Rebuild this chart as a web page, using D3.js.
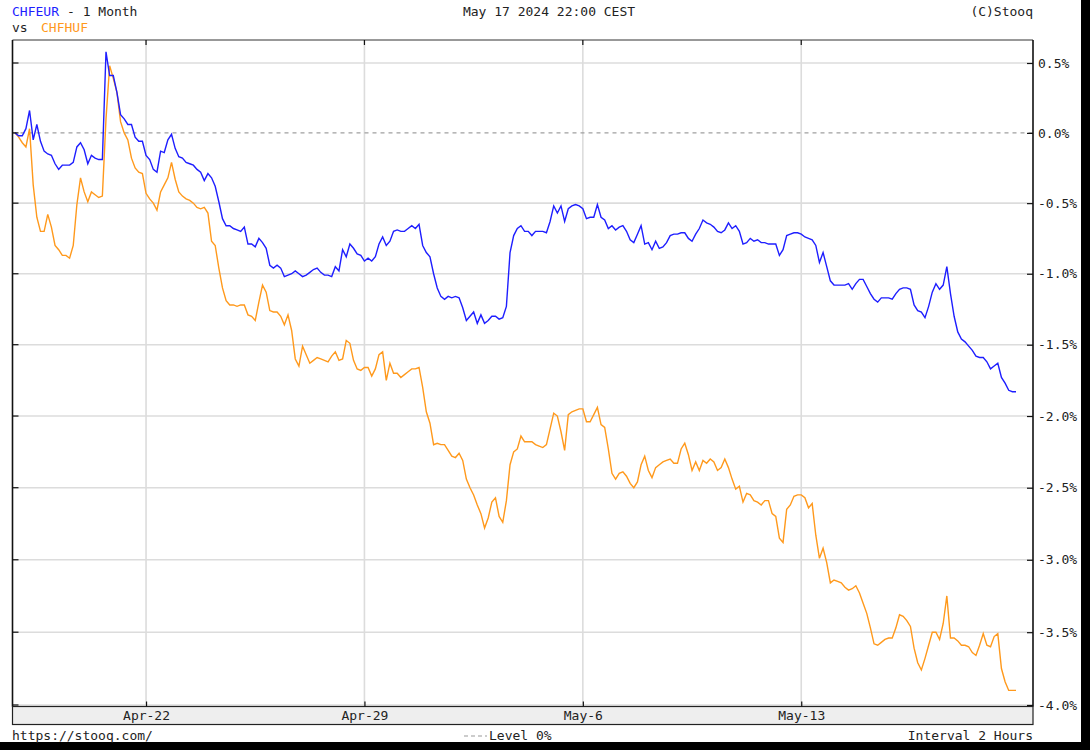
<!DOCTYPE html>
<html>
<head>
<meta charset="utf-8">
<script src="https://cdn.jsdelivr.net/npm/d3@7"></script>
<style>
  html, body { margin: 0; padding: 0; background: #fff; }
  svg { display: block; }
  text { font-family: "DejaVu Sans Mono", "Liberation Mono", monospace; font-size: 13px; }
</style>
</head>
<body>
<svg id="chart" width="1090" height="750"></svg>
<script>
// ---- data (percent change vs start, 2-hour bars) ----
const seriesNames = ["CHFEUR", "CHFHUF"];
const xTickLabels = ["Apr-22", "Apr-29", "May-6", "May-13"];
const xTickIndex = [36, 96, 156, 216];
const yTicks = [0.5, 0.0, -0.5, -1.0, -1.5, -2.0, -2.5, -3.0, -3.5, -4.0];

const chfeur = [
  0.00, -0.02, -0.02, 0.03, 0.16, -0.05, 0.06, -0.06, -0.13, -0.15,
  -0.16, -0.22, -0.26, -0.23, -0.23, -0.23, -0.21, -0.10, -0.07, -0.12,
  -0.22, -0.16, -0.18, -0.19, -0.19, 0.58, 0.41, 0.41, 0.29, 0.13,
  0.10, 0.06, 0.06, -0.03, -0.06, -0.06, -0.16, -0.19, -0.26, -0.28,
  -0.13, -0.14, -0.05, -0.01, -0.11, -0.17, -0.18, -0.21, -0.22, -0.23,
  -0.26, -0.28, -0.34, -0.29, -0.32, -0.38, -0.49, -0.61, -0.66, -0.66,
  -0.68, -0.69, -0.70, -0.67, -0.79, -0.79, -0.81, -0.75, -0.78, -0.82,
  -0.94, -0.96, -0.94, -0.96, -1.02, -1.01, -1.00, -0.98, -1.00, -1.02,
  -1.01, -0.99, -0.97, -0.96, -0.99, -1.01, -1.01, -1.02, -0.95, -0.98,
  -0.83, -0.88, -0.79, -0.82, -0.86, -0.87, -0.91, -0.89, -0.91, -0.88,
  -0.79, -0.74, -0.80, -0.77, -0.70, -0.69, -0.70, -0.70, -0.68, -0.66,
  -0.68, -0.65, -0.80, -0.85, -0.88, -1.00, -1.10, -1.16, -1.18, -1.16,
  -1.17, -1.16, -1.17, -1.24, -1.33, -1.30, -1.27, -1.35, -1.29, -1.35,
  -1.33, -1.30, -1.30, -1.32, -1.31, -1.23, -0.85, -0.73, -0.68, -0.66,
  -0.70, -0.70, -0.73, -0.70, -0.70, -0.70, -0.71, -0.63, -0.52, -0.57,
  -0.52, -0.63, -0.54, -0.52, -0.51, -0.52, -0.54, -0.61, -0.60, -0.60,
  -0.51, -0.60, -0.62, -0.68, -0.66, -0.69, -0.67, -0.66, -0.70, -0.76,
  -0.78, -0.72, -0.66, -0.79, -0.78, -0.83, -0.77, -0.82, -0.81, -0.78,
  -0.73, -0.72, -0.72, -0.71, -0.71, -0.75, -0.77, -0.72, -0.68, -0.62,
  -0.64, -0.65, -0.67, -0.70, -0.71, -0.69, -0.64, -0.68, -0.66, -0.70,
  -0.79, -0.78, -0.75, -0.77, -0.76, -0.78, -0.78, -0.79, -0.79, -0.79,
  -0.87, -0.83, -0.73, -0.72, -0.71, -0.71, -0.72, -0.74, -0.75, -0.76,
  -0.80, -0.92, -0.85, -0.95, -1.05, -1.08, -1.08, -1.08, -1.08, -1.07,
  -1.11, -1.07, -1.04, -1.04, -1.09, -1.14, -1.18, -1.20, -1.17, -1.17,
  -1.17, -1.18, -1.14, -1.11, -1.10, -1.10, -1.11, -1.22, -1.26, -1.27,
  -1.31, -1.23, -1.13, -1.07, -1.11, -1.08, -0.95, -1.14, -1.30, -1.41,
  -1.46, -1.48, -1.51, -1.54, -1.58, -1.59, -1.59, -1.62, -1.67, -1.65,
  -1.63, -1.73, -1.77, -1.82, -1.83, -1.83
];

const chfhuf = [
  0.00, -0.03, -0.07, -0.10, 0.03, -0.37, -0.60, -0.70, -0.70, -0.58,
  -0.67, -0.80, -0.83, -0.87, -0.87, -0.89, -0.80, -0.51, -0.32, -0.42,
  -0.49, -0.42, -0.44, -0.46, -0.45, 0.10, 0.48, 0.39, 0.29, 0.08,
  0.00, -0.05, -0.18, -0.25, -0.28, -0.29, -0.43, -0.47, -0.50, -0.55,
  -0.42, -0.37, -0.32, -0.21, -0.33, -0.42, -0.45, -0.47, -0.48, -0.50,
  -0.53, -0.54, -0.53, -0.57, -0.77, -0.80, -0.96, -1.10, -1.19, -1.22,
  -1.22, -1.23, -1.22, -1.22, -1.29, -1.30, -1.33, -1.20, -1.08, -1.13,
  -1.26, -1.27, -1.27, -1.30, -1.36, -1.29, -1.40, -1.60, -1.65, -1.51,
  -1.57, -1.63, -1.61, -1.59, -1.60, -1.61, -1.62, -1.58, -1.55, -1.61,
  -1.60, -1.47, -1.49, -1.61, -1.67, -1.68, -1.66, -1.66, -1.72, -1.67,
  -1.57, -1.55, -1.75, -1.63, -1.70, -1.70, -1.73, -1.71, -1.69, -1.67,
  -1.67, -1.66, -1.80, -1.97, -2.05, -2.20, -2.19, -2.20, -2.20, -2.24,
  -2.28, -2.29, -2.26, -2.31, -2.44, -2.50, -2.55, -2.62, -2.68, -2.78,
  -2.71, -2.60, -2.57, -2.70, -2.74, -2.59, -2.34, -2.25, -2.23, -2.14,
  -2.18, -2.18, -2.18, -2.20, -2.21, -2.22, -2.20, -2.09, -1.98, -2.00,
  -2.11, -2.24, -1.99, -1.97, -1.96, -1.95, -1.95, -2.04, -2.04, -1.99,
  -1.94, -2.06, -2.08, -2.23, -2.40, -2.44, -2.40, -2.39, -2.42, -2.47,
  -2.50, -2.46, -2.34, -2.28, -2.38, -2.43, -2.36, -2.34, -2.32, -2.31,
  -2.30, -2.33, -2.33, -2.23, -2.19, -2.27, -2.38, -2.32, -2.38, -2.31,
  -2.33, -2.30, -2.32, -2.38, -2.36, -2.30, -2.36, -2.44, -2.51, -2.49,
  -2.60, -2.54, -2.55, -2.59, -2.60, -2.62, -2.59, -2.59, -2.68, -2.70,
  -2.85, -2.88, -2.65, -2.62, -2.56, -2.55, -2.55, -2.57, -2.64, -2.61,
  -2.83, -2.99, -2.92, -3.02, -3.16, -3.14, -3.15, -3.16, -3.19, -3.21,
  -3.20, -3.18, -3.23, -3.30, -3.37, -3.47, -3.58, -3.59, -3.57, -3.55,
  -3.54, -3.54, -3.47, -3.38, -3.39, -3.42, -3.46, -3.61, -3.71, -3.76,
  -3.68, -3.59, -3.50, -3.50, -3.55, -3.44, -3.25, -3.54, -3.54, -3.56,
  -3.59, -3.59, -3.60, -3.64, -3.66, -3.59, -3.51, -3.59, -3.60, -3.53,
  -3.51, -3.75, -3.84, -3.90, -3.90, -3.90
];

// ---- layout ----
const W = 1090, H = 750;
const plot = { left: 12.5, right: 1033, top: 40, bottom: 706.5 };
const blueColor = "#1e1eff", orangeColor = "#ff991c", textColor = "#222";

const svg = d3.select("#chart");

// log scale of price ratio (1 + pct/100)
const y = d3.scaleLog().domain([1.005, 0.96]).range([63, 705]);
const x = d3.scaleLinear().domain([0, chfeur.length - 1]).range([15, 1016]);
const yv = v => y(1 + v / 100);

// background + black borders
svg.append("rect").attr("width", W).attr("height", H).attr("fill", "#fff");
svg.append("rect").attr("x", 1081).attr("y", 0).attr("width", 9).attr("height", H).attr("fill", "#000");
svg.append("rect").attr("x", 0).attr("y", 742).attr("width", W).attr("height", 8).attr("fill", "#000");

// gridlines (horizontal)
svg.append("g").selectAll("line").data(yTicks.filter(t => t !== 0)).join("line")
  .attr("x1", plot.left).attr("x2", plot.right)
  .attr("y1", d => yv(d)).attr("y2", d => yv(d))
  .attr("stroke", "#dcdcdc").attr("stroke-width", 1.6);

// gridlines (vertical)
svg.append("g").selectAll("line").data(xTickIndex).join("line")
  .attr("x1", d => x(d)).attr("x2", d => x(d))
  .attr("y1", plot.top).attr("y2", plot.bottom)
  .attr("stroke", "#dcdcdc").attr("stroke-width", 1.6);

// zero level dashed
svg.append("line")
  .attr("x1", plot.left).attr("x2", plot.right)
  .attr("y1", yv(0)).attr("y2", yv(0))
  .attr("stroke", "#a0a0a0").attr("stroke-width", 1.2)
  .attr("stroke-dasharray", "4,4");

// lines
const line = d3.line().x((d, i) => x(i)).y(d => yv(d));
svg.append("path").datum(chfhuf).attr("d", line)
  .attr("fill", "none").attr("stroke", orangeColor).attr("stroke-width", 1.4);
svg.append("path").datum(chfeur).attr("d", line)
  .attr("fill", "none").attr("stroke", blueColor).attr("stroke-width", 1.4);

// plot frame
svg.append("line").attr("x1", plot.left).attr("x2", plot.right).attr("y1", plot.top).attr("y2", plot.top)
  .attr("stroke", "#333").attr("stroke-width", 1);
svg.append("line").attr("x1", plot.left).attr("x2", plot.left).attr("y1", plot.top).attr("y2", plot.bottom)
  .attr("stroke", "#111").attr("stroke-width", 1.6);
svg.append("line").attr("x1", plot.right).attr("x2", plot.right).attr("y1", plot.top).attr("y2", plot.bottom)
  .attr("stroke", "#111").attr("stroke-width", 1.6);

// left inner ticks
svg.append("g").selectAll("line").data(yTicks).join("line")
  .attr("x1", plot.left).attr("x2", plot.left + 6)
  .attr("y1", d => yv(d)).attr("y2", d => yv(d))
  .attr("stroke", "#111").attr("stroke-width", 1.2);

// right axis: inner ticks + labels
const yAxis = d3.axisRight(y)
  .tickValues(yTicks.map(t => 1 + t / 100))
  .tickFormat((d, i) => yTicks[i].toFixed(1) + "%")
  .tickSize(-6).tickPadding(5);
const gy = svg.append("g").attr("transform", `translate(${plot.right},0)`).call(yAxis);
gy.select(".domain").remove();
gy.selectAll(".tick line").attr("stroke", "#111").attr("stroke-width", 1.2);
gy.selectAll(".tick text")
  .attr("x", 5)
  .style("font-family", '"DejaVu Sans Mono", monospace').style("font-size", "13px").style("fill", textColor);

// top inner ticks at vertical gridlines
svg.append("g").selectAll("line").data(xTickIndex).join("line")
  .attr("x1", d => x(d)).attr("x2", d => x(d))
  .attr("y1", plot.top).attr("y2", plot.top + 5)
  .attr("stroke", "#111").attr("stroke-width", 1.2);

// x axis band
svg.append("rect")
  .attr("x", plot.left).attr("y", plot.bottom)
  .attr("width", plot.right - plot.left).attr("height", 18)
  .attr("fill", "#eeeeee").attr("stroke", "#222").attr("stroke-width", 1.2);

const xAxis = d3.axisTop(x)
  .tickValues(xTickIndex)
  .tickFormat((d, i) => xTickLabels[i])
  .tickSize(5).tickPadding(0);
const gx = svg.append("g").attr("transform", `translate(0,${plot.bottom})`).call(xAxis);
gx.select(".domain").remove();
gx.selectAll(".tick line").attr("stroke", "#111").attr("stroke-width", 1.2);
gx.selectAll(".tick text")
  .attr("y", 13.5).attr("dy", null)
  .attr("text-anchor", "middle")
  .style("font-family", '"DejaVu Sans Mono", monospace').style("font-size", "13px").style("fill", textColor);

// header
const txt = (xx, yy, s, color, anchor) => svg.append("text")
  .attr("x", xx).attr("y", yy).attr("text-anchor", anchor || "start")
  .style("fill", color || textColor).text(s);
txt(12, 16, seriesNames[0], blueColor);
txt(67, 16, "- 1 Month");
txt(12, 32, "vs");
txt(41, 32, seriesNames[1], orangeColor);
txt(549, 16, "May 17 2024 22:00 CEST", textColor, "middle");
txt(1033, 16, "(C)Stooq", textColor, "end");

// footer
txt(12, 740, "https://stooq.com/");
svg.append("line").attr("x1", 464).attr("x2", 487).attr("y1", 736).attr("y2", 736)
  .attr("stroke", "#999").attr("stroke-width", 1).attr("stroke-dasharray", "4,3");
txt(489, 740, "Level 0%");
txt(1033, 740, "Interval 2 Hours", textColor, "end");
</script>
</body>
</html>
